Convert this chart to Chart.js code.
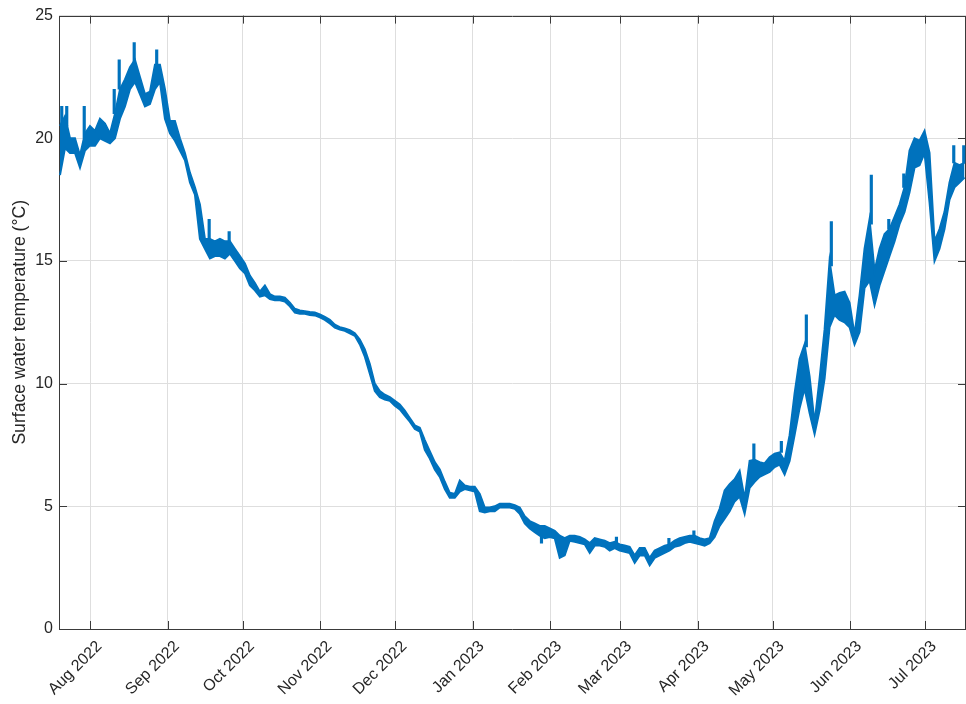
<!DOCTYPE html>
<html>
<head>
<meta charset="utf-8">
<script src="https://cdn.jsdelivr.net/npm/chart.js@4.4.1/dist/chart.umd.min.js"></script>
<style>
  html, body { margin: 0; padding: 0; background: #ffffff; }
  canvas { display: block; }
</style>
</head>
<body>
<canvas id="c" width="966" height="704"></canvas>
<script>
// ---- Data ----
// Samples every 2 days starting 2022-07-19 19:12 UTC; each sample gives the
// lower and upper edge of the dense (diurnally varying) temperature band, in °C.
const sampleStart = '2022-07-19T19:12:00Z';
const sampleStepDays = 2;
const bandLow = [
  18.5, 19.6, 19.4, 19.4, 18.8, 19.5, 19.7, 19.7, 20.0, 19.9,
  19.8, 20.0, 20.8, 21.3, 22.0, 22.3, 21.8, 21.3, 21.4, 22.0,
  22.3, 20.8, 20.2, 19.9, 19.5, 19.1, 18.2, 17.7, 15.9, 15.5,
  15.1, 15.2, 15.2, 15.1, 15.3, 15.0, 14.7, 14.5, 14.0, 13.8,
  13.55, 13.6, 13.45, 13.4, 13.4, 13.35, 13.15, 12.9, 12.85, 12.85,
  12.8, 12.78, 12.7, 12.6, 12.45, 12.28, 12.2, 12.15, 12.05, 11.95,
  11.6, 11.1, 10.4, 9.7, 9.45, 9.35, 9.3, 9.1, 8.95, 8.7,
  8.45, 8.15, 8.05, 7.3, 6.95, 6.5, 6.2, 5.7, 5.35, 5.35,
  5.6, 5.7, 5.65, 5.6, 4.8, 4.75, 4.8, 4.8, 4.95, 4.95,
  4.95, 4.9, 4.7, 4.3, 4.1, 3.95, 3.8, 3.7, 3.75, 3.7,
  2.9, 3.0, 3.6, 3.55, 3.5, 3.45, 3.1, 3.4, 3.4, 3.35,
  3.2, 3.3, 3.2, 3.15, 3.1, 2.7, 3.0, 3.0, 2.6, 2.9,
  3.0, 3.1, 3.2, 3.35, 3.4, 3.5, 3.55, 3.5, 3.45, 3.4,
  3.5, 3.75, 4.2, 4.5, 4.8, 5.2, 5.4, 4.7, 5.75, 6.0,
  6.2, 6.3, 6.4, 6.6, 6.7, 6.3, 6.85, 7.9, 9.0, 9.8,
  8.8, 7.95, 8.9, 10.2, 12.3, 12.8, 12.6, 12.5, 12.3, 11.6,
  12.1, 13.9, 14.2, 13.2, 14.0, 14.6, 15.2, 15.8, 16.5, 17.0,
  17.8, 18.8, 18.9, 19.4, 17.4, 15.0, 15.5, 16.3, 17.5, 18.0,
  18.2, 18.4
];
const bandHigh = [
  20.5, 20.9, 20.0, 20.0, 19.3, 20.2, 20.5, 20.3, 20.8, 20.6,
  20.2, 21.0, 22.0, 22.4, 22.9, 23.2, 22.5, 21.8, 21.9, 23.0,
  23.0, 22.0, 20.7, 20.7, 20.0, 19.4, 18.6, 18.0, 17.3, 15.9,
  15.9, 15.8, 15.9, 15.8, 15.8, 15.5, 15.2, 14.9, 14.4, 14.1,
  13.75, 14.0, 13.65, 13.55, 13.55, 13.5, 13.3, 13.05, 12.98, 12.95,
  12.92, 12.9, 12.82, 12.72, 12.6, 12.4, 12.3, 12.25, 12.18, 12.05,
  11.8, 11.4, 10.8, 10.0, 9.7, 9.55, 9.45, 9.3, 9.15, 8.9,
  8.6, 8.3, 8.2, 7.7, 7.25, 6.8, 6.5, 6.0, 5.55, 5.5,
  6.05, 5.85, 5.8, 5.8, 5.5, 4.95, 4.95, 5.0, 5.1, 5.1,
  5.1, 5.05, 4.95, 4.6, 4.4, 4.3, 4.2, 4.2, 4.1, 4.0,
  3.8, 3.7, 3.8, 3.8, 3.75, 3.65, 3.5, 3.7, 3.65, 3.6,
  3.5, 3.55, 3.45, 3.4, 3.35, 3.0, 3.3, 3.3, 2.9, 3.2,
  3.3, 3.4, 3.45, 3.6, 3.7, 3.75, 3.8, 3.8, 3.7, 3.65,
  3.7, 4.4, 4.9, 5.65, 5.9, 6.1, 6.45, 5.3, 6.85, 6.9,
  6.8, 6.75, 7.0, 7.15, 7.2, 6.85, 7.9, 9.6, 11.0, 11.6,
  10.3, 8.4, 10.2, 12.2, 15.0, 13.6, 13.7, 13.75, 13.3, 12.0,
  13.6, 15.5, 16.7, 14.6, 15.5, 16.1, 16.3, 16.8, 17.3, 18.0,
  19.5, 20.0, 19.9, 20.3, 19.4, 15.8, 16.3, 17.0, 18.2, 19.0,
  18.9, 19.0
];
// Sparse excursions outside the dense band: date, [from, to] in °C
const spikeDates = [
  '2022-07-20', '2022-07-22', '2022-07-29', '2022-08-10', '2022-08-12',
  '2022-08-18', '2022-08-27', '2022-09-17', '2022-09-25', '2023-01-28',
  '2023-02-27', '2023-03-20', '2023-03-30', '2023-04-23', '2023-05-04',
  '2023-05-14', '2023-05-24', '2023-06-09', '2023-06-16', '2023-06-22',
  '2023-07-12', '2023-07-16'
];
const spikeFrom = [
  20.5, 20.5, 20.0, 21.0, 22.0, 23.0, 23.0, 15.8, 15.7, 3.5,
  3.5, 3.45, 3.8, 6.8, 7.2, 11.5, 14.8, 16.5, 16.3, 18.0,
  19.0, 19.0
];
const spikeTo = [
  21.3, 21.3, 21.3, 22.0, 23.2, 23.9, 23.6, 16.7, 16.2, 3.9,
  3.75, 3.7, 4.0, 7.55, 7.65, 12.8, 16.6, 18.5, 16.7, 18.55,
  19.7, 19.7
];
const monthTickDates = [
  '2022-08-01', '2022-09-01', '2022-10-01', '2022-11-01', '2022-12-01', '2023-01-01',
  '2023-02-01', '2023-03-01', '2023-04-01', '2023-05-01', '2023-06-01', '2023-07-01'
];
const monthTickLabels = [
  'Aug 2022', 'Sep 2022', 'Oct 2022', 'Nov 2022', 'Dec 2022', 'Jan 2023',
  'Feb 2023', 'Mar 2023', 'Apr 2023', 'May 2023', 'Jun 2023', 'Jul 2023'
];
const yTickValues = [0, 5, 10, 15, 20, 25];
const xRange = ['2022-07-19T09:36:00Z', '2023-07-17T09:36:00Z'];
const yTitle = 'Surface water temperature (\u00B0C)';

// ---- Build points ----
const DAY = 86400000;
const t0 = Date.parse(sampleStart);
const lowPts = bandLow.map((v, i) => ({ x: t0 + i * sampleStepDays * DAY, y: v }));
const highPts = bandHigh.map((v, i) => ({ x: t0 + i * sampleStepDays * DAY, y: v }));
const spikePts = spikeDates.map((d, i) => ({ x: Date.parse(d + 'T12:00:00Z'), y: [spikeFrom[i], spikeTo[i]] }));
const monthTickValues = monthTickDates.map(d => Date.parse(d + 'T00:00:00Z'));

const BLUE = '#0072BD';
const AXIS_COLOR = '#3a3a3a';
const TEXT_COLOR = '#262626';
const GRID_COLOR = '#dedede';
const FONT = '"Liberation Sans", Arial, Helvetica, sans-serif';

const boxTicks = {
  id: 'boxTicks',
  beforeDatasetsDraw(chart) {
    const { ctx, chartArea: a, scales } = chart;
    ctx.save();
    ctx.strokeStyle = AXIS_COLOR;
    ctx.lineWidth = 1;
    ctx.beginPath();
    const L = 8;
    scales.x.ticks.forEach(tk => {
      const px = Math.round(scales.x.getPixelForValue(tk.value)) + 0.5;
      ctx.moveTo(px, a.bottom); ctx.lineTo(px, a.bottom - L);
      ctx.moveTo(px, a.top); ctx.lineTo(px, a.top + L);
    });
    scales.y.ticks.forEach(tk => {
      const py = Math.round(scales.y.getPixelForValue(tk.value)) + 0.5;
      ctx.moveTo(a.left, py); ctx.lineTo(a.left + L, py);
      ctx.moveTo(a.right, py); ctx.lineTo(a.right - L, py);
    });
    ctx.stroke();
    ctx.beginPath();
    ctx.rect(Math.round(a.left) + 0.5, Math.round(a.top) + 0.5,
             Math.round(a.right - a.left) - 1, Math.round(a.bottom - a.top));
    ctx.stroke();
    ctx.restore();
  }
};

const whiteBg = {
  id: 'whiteBg',
  beforeDraw(chart) {
    const { ctx } = chart;
    ctx.save();
    ctx.fillStyle = '#ffffff';
    ctx.fillRect(0, 0, chart.width, chart.height);
    ctx.restore();
  }
};

new Chart(document.getElementById('c'), {
  type: 'scatter',
  data: {
    datasets: [
      {
        type: 'line',
        data: lowPts,
        borderColor: BLUE,
        backgroundColor: BLUE,
        borderWidth: 2,
        pointRadius: 0,
        fill: false,
        tension: 0
      },
      {
        type: 'line',
        data: highPts,
        borderColor: BLUE,
        backgroundColor: BLUE,
        borderWidth: 2,
        pointRadius: 0,
        fill: '-1',
        tension: 0
      },
      {
        type: 'bar',
        data: spikePts,
        backgroundColor: BLUE,
        borderWidth: 0,
        barThickness: 2.5,
        grouped: false
      }
    ]
  },
  options: {
    responsive: false,
    devicePixelRatio: 1,
    animation: false,
    events: [],
    layout: { padding: { top: 13, right: 0, left: 0, bottom: 0 } },
    plugins: { legend: { display: false }, tooltip: { enabled: false } },
    scales: {
      x: {
        type: 'linear',
        offset: false,
        min: Date.parse(xRange[0]),
        max: Date.parse(xRange[1]),
        afterBuildTicks: s => { s.ticks = monthTickValues.map(v => ({ value: v })); },
        afterFit: s => { s.height = 75; },
        grid: { color: GRID_COLOR, drawTicks: false, lineWidth: 1, offset: false },
        border: { display: false },
        ticks: {
          autoSkip: false,
          minRotation: 45,
          maxRotation: 45,
          padding: 8,
          labelOffset: 9,
          color: TEXT_COLOR,
          font: { family: FONT, size: 16 },
          callback: (v, i) => monthTickLabels[i]
        }
      },
      y: {
        type: 'linear',
        min: 0,
        max: 25,
        afterBuildTicks: s => { s.ticks = yTickValues.map(v => ({ value: v })); },
        afterFit: s => { s.width = 59; },
        grid: { color: GRID_COLOR, drawTicks: false, lineWidth: 1 },
        border: { display: false },
        ticks: {
          padding: 6,
          color: TEXT_COLOR,
          font: { family: FONT, size: 16 }
        },
        title: {
          display: true,
          text: yTitle,
          color: TEXT_COLOR,
          font: { family: FONT, size: 17.6 },
          padding: { top: 10, bottom: 0 }
        }
      }
    }
  },
  plugins: [whiteBg, boxTicks]
});
</script>
</body>
</html>
